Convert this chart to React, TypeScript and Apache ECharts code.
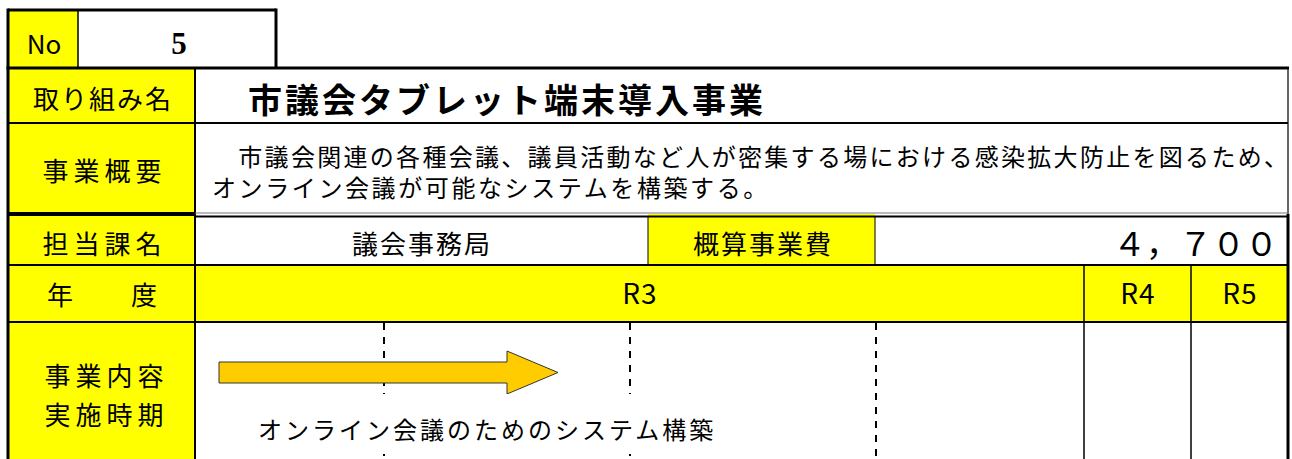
import React, { useEffect, useRef } from "react";
import * as echarts from "echarts";

// ---- content ----
const NO_LABEL = "No";
const NO_VALUE = "5";
const TITLE = "市議会タブレット端末導入事業";
const ROW_LABELS = ["取り組み名", "事業概要", "担当課名", "年　　度"];
const CONTENT_LABELS = ["事業内容", "実施時期"];
const SUMMARY_LINES = [
  "　市議会関連の各種会議、議員活動など人が密集する場における感染拡大防止を図るため、",
  "オンライン会議が可能なシステムを構築する。",
];
const DEPARTMENT = "議会事務局";
const COST_LABEL = "概算事業費";
const COST_VALUE = "４，７００";
const YEARS = ["R3", "R4", "R5"];
const TASK = "オンライン会議のためのシステム構築";

// ---- layout ----
const W = 1292;
const H = 459;
const L = 8;
const R = 1288;
const LABEL_R = 195;
const TOP_NO = 10;
const Y_TOP = 68;
const Y1 = 123;
const Y2 = 214;
const Y3 = 265;
const Y4 = 322;
const Y_END = 470;
const COST_X0 = 648;
const COST_X1 = 875;
const YEAR_X = [LABEL_R, 1084, 1191, R];
const QUARTER_X = [384, 630, 876];

const FONT = "'Noto Sans CJK JP', 'Noto Sans', sans-serif";
const YELLOW = "#FFFF00";
const ARROW_FILL = "#FFCC00";

// letter spacing per text (applied to the rendered SVG text)
const SPACING: Record<string, number> = {
  [TITLE]: 3,
  [ROW_LABELS[0]]: 2,
  [ROW_LABELS[1]]: 5,
  [ROW_LABELS[2]]: 5,
  [ROW_LABELS[3]]: 2,
  [CONTENT_LABELS[0]]: 5,
  [CONTENT_LABELS[1]]: 5,
  [SUMMARY_LINES[0]]: 2.3,
  [SUMMARY_LINES[1]]: 2.6,
  [DEPARTMENT]: 2,
  [COST_LABEL]: 2,
  [TASK]: 3,
  [YEARS[0]]: 1,
  [YEARS[1]]: 1,
  [YEARS[2]]: 1,
};

function sp(t: string) {
  return SPACING[t] ?? 0;
}

function rect(x: number, y: number, w: number, h: number, fill: string) {
  return { type: "rect", shape: { x, y, width: w, height: h }, style: { fill }, silent: true };
}

function line(x1: number, y1: number, x2: number, y2: number, lw: number, stroke = "#000", dash?: number[]) {
  return {
    type: "line",
    shape: { x1, y1, x2, y2 },
    style: { stroke, lineWidth: lw, lineDash: dash },
    silent: true,
  };
}

function text(
  t: string,
  x: number,
  y: number,
  size: number,
  align: "left" | "center" | "right" = "center",
  opts: { bold?: boolean; family?: string } = {}
) {
  const s = sp(t);
  const xx = align === "center" ? x + s / 2 : align === "right" ? x + s : x;
  return {
    type: "text",
    x: xx,
    y,
    silent: true,
    style: {
      text: t,
      fill: "#000",
      fontSize: size,
      lineHeight: Math.round(size * 1.1),
      fontWeight: opts.bold ? "bold" : "normal",
      fontFamily: opts.family ?? FONT,
      align,
      verticalAlign: "middle",
    },
  };
}

export default function App() {
  const ref = useRef<HTMLDivElement>(null);

  useEffect(() => {
    if (!ref.current) return;
    const chart = echarts.init(ref.current, undefined, { renderer: "svg" });

    const elements: any[] = [];
    // background
    elements.push(rect(0, 0, W, H, "#ffffff"));
    // yellow fills
    elements.push(rect(L, TOP_NO, 78 - L, Y_TOP - TOP_NO, YELLOW));
    elements.push(rect(L, Y_TOP, LABEL_R - L, Y_END - Y_TOP, YELLOW));
    elements.push(rect(COST_X0, Y2, COST_X1 - COST_X0, Y3 - Y2, YELLOW));
    elements.push(rect(LABEL_R, Y3, R - LABEL_R, Y4 - Y3, YELLOW));

    // No box
    elements.push(line(L, TOP_NO, 276, TOP_NO, 3));
    elements.push(line(L, TOP_NO - 1.5, L, Y_TOP, 3));
    elements.push(line(276, TOP_NO - 1.5, 276, Y_TOP, 3));
    elements.push(line(78, TOP_NO, 78, Y_TOP, 1.5));

    // table frame
    elements.push(line(L - 1.5, Y_TOP, R + 1, Y_TOP, 3));
    elements.push(line(L, Y_TOP, L, Y_END, 3));
    elements.push(line(R, Y_TOP, R, Y2, 1.2));
    elements.push(line(R, Y2, R, Y_END, 3));
    elements.push(line(LABEL_R, Y_TOP, LABEL_R, Y_END, 2));

    // horizontal rules
    elements.push(line(L, Y1, R, Y1, 2));
    elements.push(line(L, Y2, LABEL_R, Y2, 4));
    elements.push(line(LABEL_R, Y2 - 1, R, Y2 - 1, 1, "#777"));
    elements.push(line(LABEL_R, Y2 + 2.5, R, Y2 + 2.5, 2));
    elements.push(line(L, Y3, R, Y3, 2));
    elements.push(line(L, Y4, R, Y4, 2));

    // row 3 verticals
    elements.push(line(COST_X0, Y2 + 2, COST_X0, Y3, 1));
    elements.push(line(COST_X1, Y2 + 2, COST_X1, Y3, 1));

    // year separators
    for (let i = 1; i < YEAR_X.length - 1; i++) {
      elements.push(line(YEAR_X[i], Y3, YEAR_X[i], Y_END, 1.5));
    }
    // quarter dashed lines
    QUARTER_X.forEach((x) => elements.push(line(x, Y4 + 1, x, Y_END, 2, "#000", [7, 7])));

    // arrow (drawn above the dashed lines)
    elements.push({
      type: "polygon",
      silent: true,
      shape: {
        points: [
          [219, 362],
          [507, 362],
          [507, 351],
          [558, 372.5],
          [507, 394],
          [507, 383],
          [219, 383],
        ],
      },
      style: { fill: ARROW_FILL, stroke: "#333", lineWidth: 1 },
    });

    // white text box behind the task label
    elements.push(rect(238, 394, 482, 60, "#ffffff"));

    // texts
    elements.push(text(NO_LABEL, 44, 42, 26));
    elements.push(text(NO_VALUE, 179, 43, 31, "center", { bold: true, family: "'Liberation Serif', 'DejaVu Serif', serif" }));
    elements.push(text(TITLE, 248, 98, 34, "left", { bold: true }));

    const labelY = [97, 169, 242, 293];
    ROW_LABELS.forEach((t, i) => elements.push(text(t, 102, labelY[i], 26)));
    const contentY = [374, 413];
    CONTENT_LABELS.forEach((t, i) => elements.push(text(t, 104, contentY[i], 26)));

    const summaryY = [155, 186];
    SUMMARY_LINES.forEach((t, i) => elements.push(text(t, 212, summaryY[i], 24, "left")));

    elements.push(text(DEPARTMENT, 421, 242, 26));
    elements.push(text(COST_LABEL, 762, 242, 26));
    elements.push(text(COST_VALUE, 1278, 242, 33, "right"));

    YEARS.forEach((t, i) => {
      const cx = (YEAR_X[i] + YEAR_X[i + 1]) / 2;
      elements.push(text(t, cx, 292, 28));
    });

    elements.push(text(TASK, 258, 428, 24, "left"));

    chart.setOption({
      animation: false,
      graphic: { elements },
    });

    const applySpacing = () => {
      const svg = ref.current?.querySelector("svg");
      if (!svg) return;
      svg.querySelectorAll("text").forEach((el) => {
        const s = SPACING[el.textContent ?? ""];
        if (s) (el as SVGTextElement).style.letterSpacing = s + "px";
      });
    };
    applySpacing();
    chart.on("finished", applySpacing);

    return () => {
      chart.dispose();
    };
  }, []);

  return (
    <div
      ref={ref}
      style={{ position: "fixed", left: 0, top: 0, width: W, height: H, background: "#fff" }}
    />
  );
}
